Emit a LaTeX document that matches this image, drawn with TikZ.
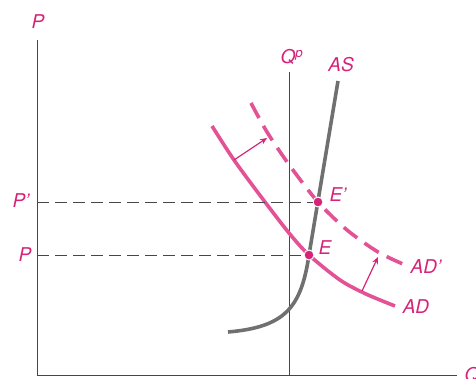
\documentclass[tikz,border=0pt]{standalone}
\usepackage{fontspec}
\setsansfont{TeX Gyre Heros}
\usetikzlibrary{arrows.meta,positioning,calc}
\definecolor{adcurve}{RGB}{226,82,148}
\definecolor{adink}{RGB}{214,34,120}
\definecolor{ascurve}{RGB}{112,112,112}
\definecolor{axisink}{RGB}{70,70,70}
\tikzset{
  axis/.style={draw=axisink, line width=1pt},
  guide/.style={draw=axisink, line width=0.8pt, dash pattern=on 12pt off 6pt},
  adline/.style={draw=adcurve, line width=3.6pt},
  adshift/.style={adline, dash pattern=on 17pt off 9pt},
  asline/.style={draw=ascurve, line width=3.6pt},
  shiftarr/.style={-{Stealth[length=7pt,width=6pt]}, draw=adink, line width=1.2pt},
  dot/.style={circle, fill=adink, draw=white, line width=1pt, inner sep=0pt, minimum size=10pt},
  lbl/.style={text=adink, font=\fontsize{19}{20}\selectfont\sffamily\itshape, inner sep=1pt}
}
\begin{document}
\begin{tikzpicture}[x=1pt,y=-1pt]
  \useasboundingbox (0,0) rectangle (476,378);
  \coordinate (O) at (37,375);
  \coordinate (ytop) at (37,40);
  \coordinate (xend) at (457,375);
  \coordinate (qtop) at (289,72);
  \coordinate (qbot) at (289,375);
  \draw[axis] (ytop) -- (O) -- (xend);
  \draw[axis, line width=0.8pt] (qtop) -- (qbot);
  % aggregate supply and demand
  \draw[asline] (228,332) .. controls (285,327) and (301,308) .. (309,255) -- (338,81);
  \draw[adline] plot[smooth] coordinates {(212,126) (234,160) (262,198) (289,233) (309,255) (340,280) (366,294) (395,306)};
  \draw[adshift] plot[smooth] coordinates {(251,103) (267,132) (290,166) (318,202) (347,230) (378,252) (403,264)};
  % shift arrows
  \coordinate (a1) at (234,160);
  \coordinate (b1) at (267,138);
  \coordinate (a2) at (362,291);
  \coordinate (b2) at (378,257);
  \draw[shiftarr] (a1) -- (b1);
  \draw[shiftarr] (a2) -- (b2);
  % equilibria
  \node[dot] (E) at (309,255) {};
  \node[dot] (Ep) at (318,202) {};
  \draw[guide] (O |- E) -- (E);
  \draw[guide] (O |- Ep) -- (Ep);
  % labels
  \node[lbl] (ylab) at (38,22) {P};
  \node[lbl] (xlab) at (472,375) {Q};
  \node[lbl] (plab) at (25,255) {P};
  \node[lbl] (pplab) at (21,201) {P’};
  \node[lbl] (qplab) at (292,57) {Q\textsuperscript{p}};
  \node[lbl] (aslab) at (341,65) {AS};
  \node[lbl] (eplab) at (338,195) {E’};
  \node[lbl] (elab) at (325,248) {E};
  \node[lbl] (adplab) at (426,267) {AD’};
  \node[lbl] (adlab) at (416,307) {AD};
\end{tikzpicture}
\end{document}
